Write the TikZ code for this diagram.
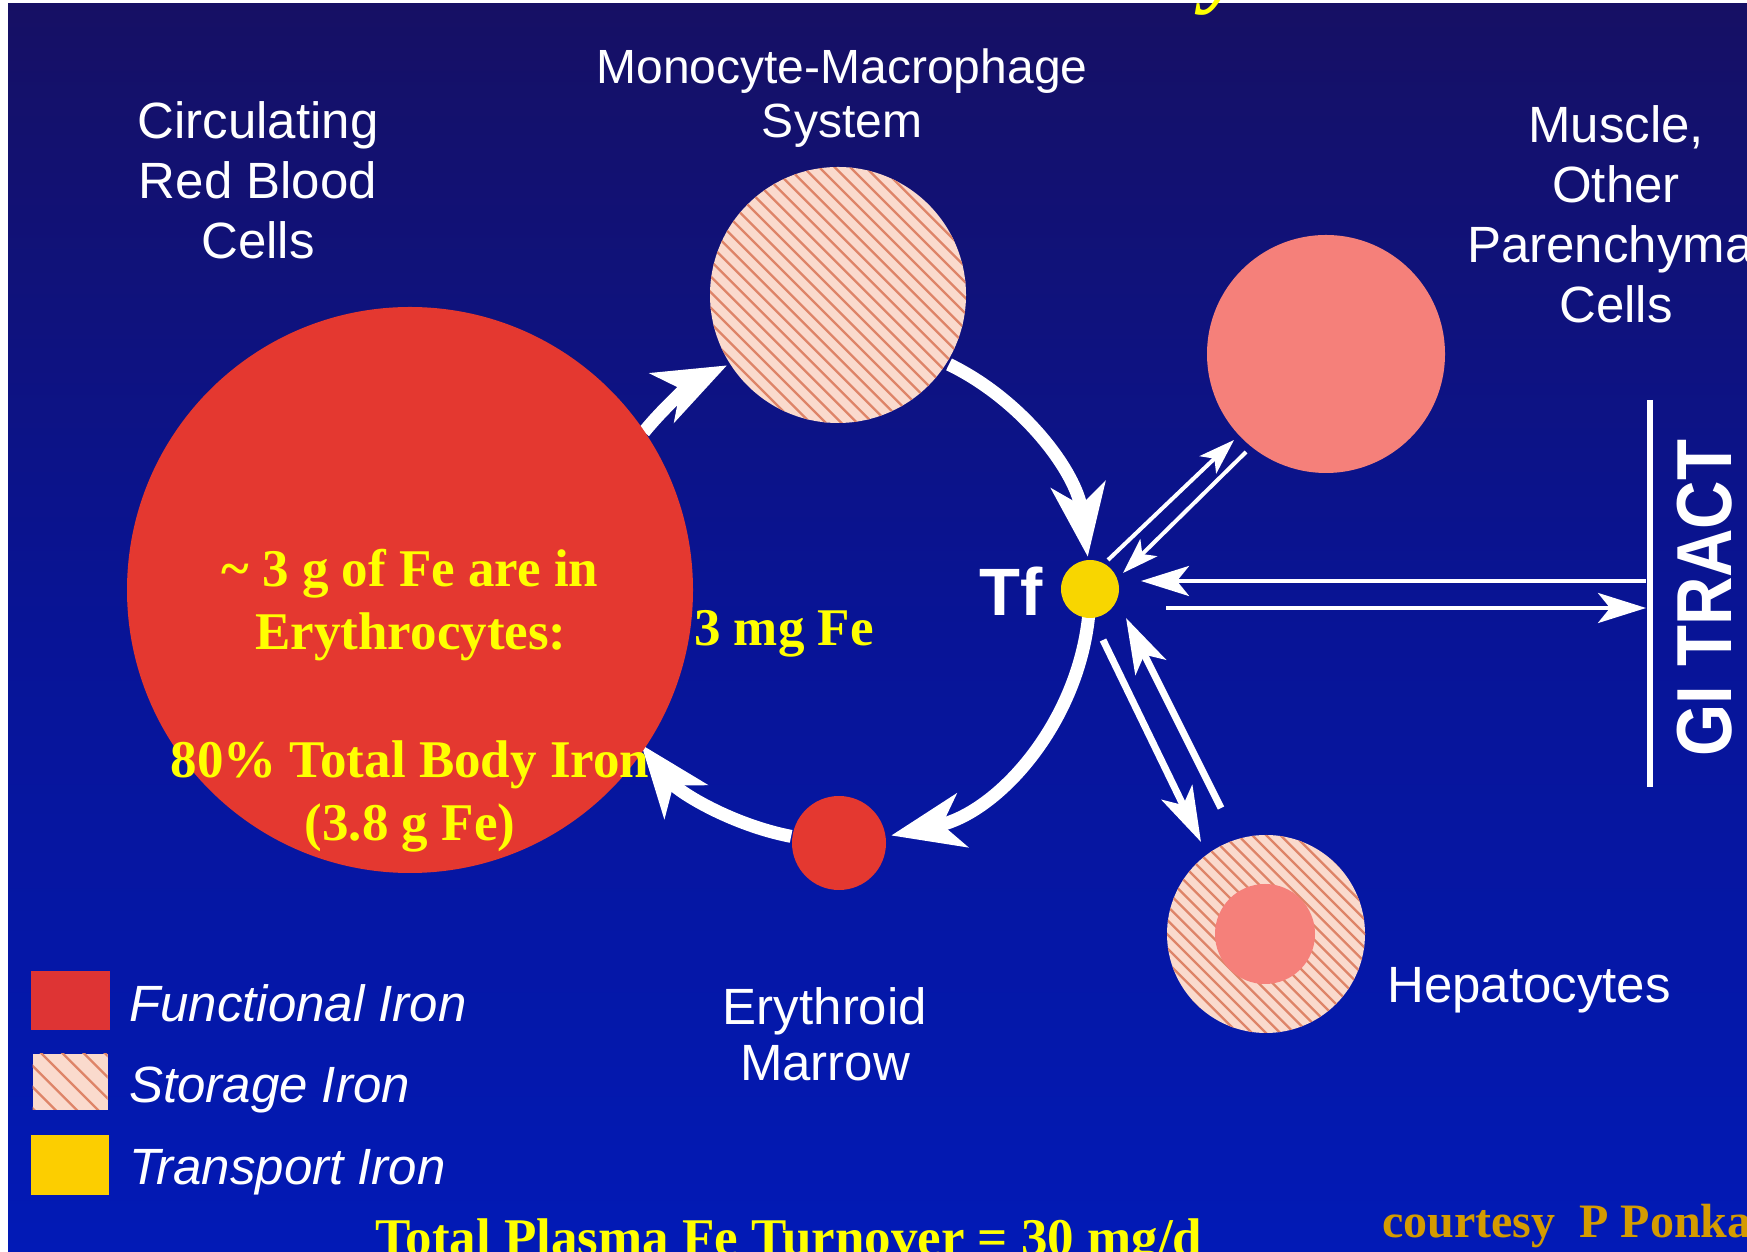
\documentclass[tikz,border=0pt]{standalone}
\usepackage{fontspec}
\usepackage{graphicx}
\setmainfont{Liberation Serif}
\setsansfont{Liberation Sans}
\usetikzlibrary{arrows.meta,calc}
\definecolor{bgtop}{RGB}{22,16,100}
\definecolor{bgmid}{RGB}{8,20,150}
\definecolor{bgbot}{RGB}{2,26,182}
\definecolor{fered}{RGB}{228,56,48}
\definecolor{legred}{RGB}{222,52,52}
\definecolor{salmon}{RGB}{245,128,122}
\definecolor{stfill}{RGB}{250,218,205}
\definecolor{stline}{RGB}{222,132,104}
\definecolor{tfyellow}{RGB}{248,214,0}
\definecolor{legyellow}{RGB}{252,206,0}
\definecolor{txtyellow}{RGB}{255,255,0}
\definecolor{goldtxt}{RGB}{212,155,0}
\tikzset{
  pool/.style={circle, inner sep=0pt, minimum size=#1, draw=none},
  hatched/.style={fill=stfill, path picture={
    \begin{scope}[shift={(path picture bounding box.center)}]
      \foreach \k in {-30,...,30} \draw[stline, line width=2.3pt] (\k*#1*1.4142-300,300) -- (\k*#1*1.4142+300,-300);
    \end{scope}}},
  ring/.style={white, line width=13pt, -{Stealth[length=72pt, width=54pt, inset=20pt]}},
  thinarr/.style={white, line width=4pt, -{Stealth[length=36pt, width=24pt, inset=9pt]}},
  harr/.style={white, line width=4pt, -{Stealth[length=48pt, width=30pt, inset=12pt]}},
  heparr/.style={white, line width=7pt, -{Stealth[length=55pt, width=34pt, inset=14pt]}},
  lab/.style={text=white, inner sep=0pt, font=\sffamily\fontsize{51}{60}\selectfont},
  legtxt/.style={text=white, inner sep=0pt, anchor=base west, font=\sffamily\itshape\fontsize{51}{60}\selectfont},
  yel/.style={text=txtyellow, inner sep=0pt, font=\rmfamily\bfseries\fontsize{53}{60}\selectfont},
  legbox/.style={rectangle, inner sep=0pt, draw=none},
}
\begin{document}
\begin{tikzpicture}[x=1pt, y=1pt]
\useasboundingbox (0,0) rectangle (1747,1252);
% background
\fill[white] (0,0) rectangle (1747,1252);
\shade[top color=bgtop, bottom color=bgbot, middle color=bgmid] (8,0) rectangle (1747,1248);

% ring of arrows (drawn first so that circles cover their starts)
\coordinate (ringc) at (839,662);
\draw[ring] ($(ringc)+(141:251)$) arc[start angle=141, end angle=116.5, radius=251];
\draw[ring] ($(ringc)+(64:251)$) arc[start angle=64, end angle=7.6, radius=251];
\draw[ring] ($(ringc)+(-6:251)$) arc[start angle=-6, end angle=-78, radius=251];
\draw[ring] ($(ringc)+(-101:251)$) arc[start angle=-101, end angle=-142, radius=251];

% pools
\node[pool=566pt, fill=fered] (rbc) at (410,662) {};
\node[pool=256pt, hatched=11] (mono) at (838,957) {};
\node[pool=238pt, fill=salmon] (muscle) at (1326,898) {};
\node[pool=58pt, fill=tfyellow] (tf) at (1090,663) {};
\node[pool=94pt, fill=fered] (marrow) at (839,409) {};
\node[pool=198pt, hatched=10] (hep) at (1266,318) {};
\node[pool=100pt, fill=salmon] (hepcore) at (1265,318) {};

% GI tract line
\coordinate (gitop) at (1650,852);
\coordinate (gibot) at (1650,465);
\coordinate (gi) at (1650,658);
\draw[white, line width=6pt] (gitop) -- (gibot);

% exchange arrows
\draw[thinarr] ([shift={(18,29)}]tf.center) -- ([shift={(-92,-86)}]muscle.center);
\draw[thinarr] ([shift={(-80,-98)}]muscle.center) -- ([shift={(33,16)}]tf.center);
\draw[harr] ([shift={(-4,13)}]gi) -- ([shift={(51,8)}]tf.center);
\draw[harr] ([shift={(76,-19)}]tf.center) -- ([shift={(-4,-14)}]gi);
\draw[heparr] ([shift={(13,-51)}]tf.center) -- ([shift={(-65,92)}]hep.center);
\draw[heparr] ([shift={(-45,126)}]hep.center) -- ([shift={(36,-29)}]tf.center);

% white labels
\node[lab, anchor=base] (circlab) at (258,1113) {\begin{tabular}[t]{@{}c@{}}Circulating\\Red Blood\\Cells\end{tabular}};
\node[lab, anchor=base, font=\sffamily\fontsize{48}{54}\selectfont] (monolab) at (842,1168) {\begin{tabular}[t]{@{}c@{}}Monocyte-Macrophage\\System\end{tabular}};
\node[lab, anchor=base] (muslab) at (1616,1109) {\begin{tabular}[t]{@{}c@{}}Muscle,\\Other\\Parenchymal\\Cells\end{tabular}};
\node[lab, anchor=base, font=\sffamily\fontsize{51}{56}\selectfont] (erylab) at (825,227) {\begin{tabular}[t]{@{}c@{}}Erythroid\\Marrow\end{tabular}};
\node[lab, anchor=base west] (heplab) at (1387,249) {Hepatocytes};
\node[lab, anchor=base, font=\sffamily\bfseries\fontsize{67}{70}\selectfont] (tflab) at (1011,636) {Tf};
\node[lab, rotate=90, font=\sffamily\bfseries\fontsize{78}{80}\selectfont] (gilab) at (1705,654) {\scalebox{0.86}[1]{GI TRACT}};

% legend
\node[legbox, minimum width=79pt, minimum height=59pt, fill=legred] (lfun) at (70,251.5) {};
\node[legbox, minimum width=75pt, minimum height=56pt, hatched=15] (lsto) at (70,170) {};
\node[legbox, minimum width=78pt, minimum height=60pt, fill=legyellow] (ltra) at (70,87) {};
\node[legtxt] (tfun) at (129,230) {Functional Iron};
\node[legtxt] (tsto) at (129,149) {Storage Iron};
\node[legtxt] (ttra) at (129,67) {Transport Iron};

% yellow overlay texts
\node[yel, anchor=base] (y1) at (410,665) {\textasciitilde{} 3 g of Fe are in};
\node[yel, anchor=base] (y2) at (411,602) {Erythrocytes:};
\node[yel, anchor=base] (y3) at (410,474) {80\% Total Body Iron};
\node[yel, anchor=base] (y4) at (410,411) {(3.8 g Fe)};
\node[yel, anchor=base west] (y5) at (694,606) {3 mg Fe};
\node[yel, anchor=base west] (y6) at (375,-4) {Total Plasma Fe Turnover = 30 mg/d};
\node[inner sep=0pt, anchor=base west, text=goldtxt, font=\rmfamily\bfseries\fontsize{48}{54}\selectfont] (credit) at (1382,14) {courtesy\ \ P Ponka};
\node[inner sep=0pt, anchor=base west, text=txtyellow, font=\rmfamily\bfseries\itshape\fontsize{92}{92}\selectfont] (ttl) at (1204,1256) {y};
\end{tikzpicture}
\end{document}
